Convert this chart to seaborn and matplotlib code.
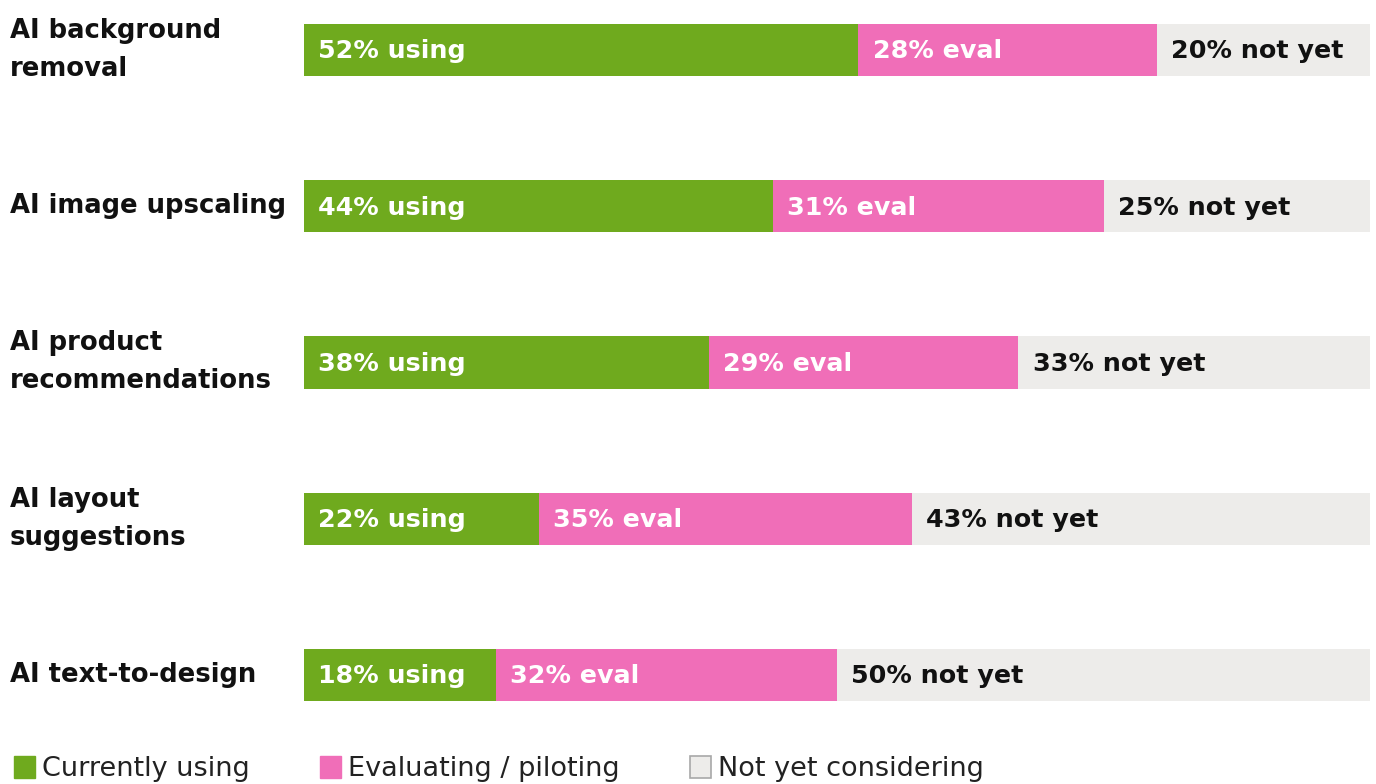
import matplotlib
matplotlib.use("Agg")
import matplotlib.pyplot as plt
import seaborn as sns
import pandas as pd
import numpy as np
from matplotlib.patches import Patch

categories = ["AI background\nremoval", "AI image upscaling", "AI product\nrecommendations",
              "AI layout\nsuggestions", "AI text-to-design"]
using = [52, 44, 38, 22, 18]
evaluating = [28, 31, 29, 35, 32]
not_yet = [20, 25, 33, 43, 50]

series_names = ["Currently using", "Evaluating / piloting", "Not yet considering"]
suffixes = ["using", "eval", "not yet"]
colors = ["#6FAA1E", "#F06EB8", "#EDECEA"]
text_colors = ["white", "white", "#111111"]

sns.set_theme(style="white")
plt.rcParams["font.family"] = ["DejaVu Sans"]

fig = plt.figure(figsize=(13.76, 7.84), dpi=100)
ax = fig.add_axes([304 / 1376, 83 / 784, 1066 / 1376, 677 / 784])

df = pd.DataFrame({"category": categories, "using": using,
                   "evaluating": evaluating, "not_yet": not_yet})
df["c1"] = df["using"]
df["c2"] = df["using"] + df["evaluating"]
df["c3"] = df["c2"] + df["not_yet"]

bar_h = 0.333
for col, color in zip(["c3", "c2", "c1"], colors[::-1]):
    sns.barplot(data=df, x=col, y="category", color=color, orient="h",
                width=bar_h, saturation=1, ax=ax, linewidth=0)

ax.set_xlim(0, 100)
ax.set_ylim(4 + bar_h / 2, -bar_h / 2)
ax.set_xlabel("")
ax.set_ylabel("")
ax.set_xticks([])
for s in ax.spines.values():
    s.set_visible(False)

# segment labels
vals = [using, evaluating, not_yet]
for i in range(len(categories)):
    left = 0
    for k in range(3):
        v = vals[k][i]
        ax.annotate(f"{v}% {suffixes[k]}", xy=(left, i), xytext=(10.3, -1),
                    textcoords="offset points", ha="left", va="center",
                    color=text_colors[k], fontsize=18.3, fontweight="bold")
        left += v

ax.tick_params(axis="y", length=0, pad=211.7)
for lbl in ax.get_yticklabels():
    lbl.set_ha("left")
    lbl.set_va("center")
    lbl.set_fontweight("bold")
    lbl.set_fontsize(18.6)
    lbl.set_color("#111111")
    lbl.set_linespacing(1.6)

handles = [Patch(facecolor=colors[0], edgecolor=colors[0]),
           Patch(facecolor=colors[1], edgecolor=colors[1]),
           Patch(facecolor=colors[2], edgecolor="#A8A8A8", linewidth=1.2)]
fig.legend(handles, series_names, loc="center left", bbox_to_anchor=(14 / 1376, 15 / 784),
           ncol=3, frameon=False, fontsize=19.5, handlelength=0.78, handleheight=0.85,
           handletextpad=0.25, columnspacing=2.6, labelcolor="#222222",
           borderaxespad=0, borderpad=0)

fig.savefig("out.png", dpi=100, facecolor="white")
